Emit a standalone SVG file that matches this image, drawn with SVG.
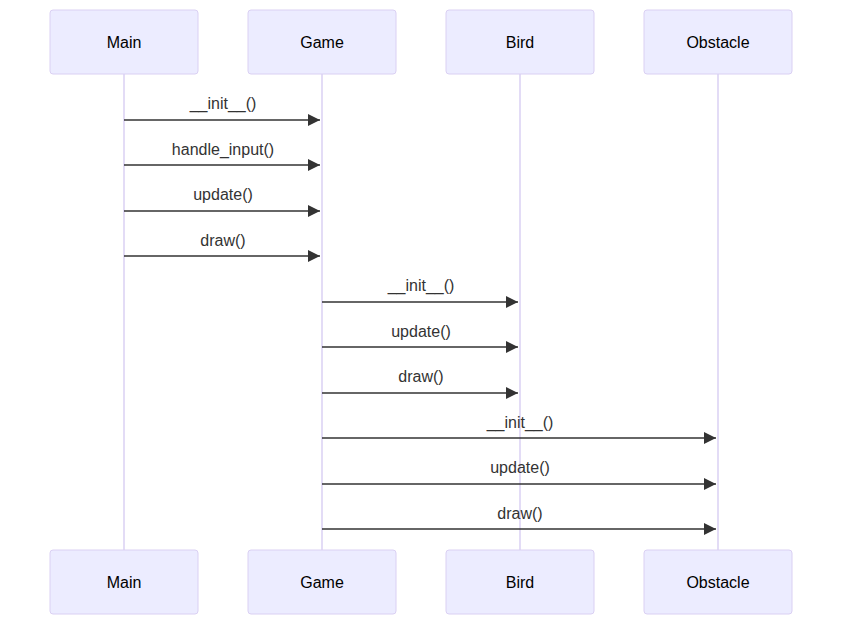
<svg xmlns="http://www.w3.org/2000/svg" width="850" height="631" viewBox="0 0 850 631">
<style>
.actor{fill:#ECECFF;stroke:#DAD0F3;stroke-width:1}
.atext{font-family:"Liberation Sans",Arial,sans-serif;font-size:16px;fill:#000;text-anchor:middle;dominant-baseline:central}
.life{stroke:#DAD0F3;stroke-width:1.5}
.msg{stroke:#333;stroke-width:1.5;fill:none;marker-end:url(#arrow)}
.mtext{font-family:"Liberation Sans",Arial,sans-serif;font-size:16px;fill:#333;text-anchor:middle}
</style>
<defs>
<marker id="arrow" markerUnits="userSpaceOnUse" markerWidth="12" markerHeight="12" refX="10" refY="5" orient="auto" viewBox="0 0 10 10">
<path d="M0,0 L10,5 L0,10 z" fill="#333"/>
</marker>
</defs>
<rect width="850" height="631" fill="#fff"/>
<g id="lifelines">
<line class="life" x1="124" y1="74" x2="124" y2="550"/>
<line class="life" x1="322" y1="74" x2="322" y2="550"/>
<line class="life" x1="520" y1="74" x2="520" y2="550"/>
<line class="life" x1="718" y1="74" x2="718" y2="550"/>
</g>
<g id="main-top"><rect class="actor" x="50" y="10" width="148" height="64" rx="3"/><text class="atext" x="124" y="42">Main</text></g>
<g id="game-top"><rect class="actor" x="248" y="10" width="148" height="64" rx="3"/><text class="atext" x="322" y="42">Game</text></g>
<g id="bird-top"><rect class="actor" x="446" y="10" width="148" height="64" rx="3"/><text class="atext" x="520" y="42">Bird</text></g>
<g id="obstacle-top"><rect class="actor" x="644" y="10" width="148" height="64" rx="3"/><text class="atext" x="718" y="42">Obstacle</text></g>
<g id="main-bottom"><rect class="actor" x="50" y="550" width="148" height="64" rx="3"/><text class="atext" x="124" y="582">Main</text></g>
<g id="game-bottom"><rect class="actor" x="248" y="550" width="148" height="64" rx="3"/><text class="atext" x="322" y="582">Game</text></g>
<g id="bird-bottom"><rect class="actor" x="446" y="550" width="148" height="64" rx="3"/><text class="atext" x="520" y="582">Bird</text></g>
<g id="obstacle-bottom"><rect class="actor" x="644" y="550" width="148" height="64" rx="3"/><text class="atext" x="718" y="582">Obstacle</text></g>
<g id="connectors">
<line class="msg" x1="124" y1="120" x2="320" y2="120"/>
<line class="msg" x1="124" y1="165" x2="320" y2="165"/>
<line class="msg" x1="124" y1="211" x2="320" y2="211"/>
<line class="msg" x1="124" y1="256" x2="320" y2="256"/>
<line class="msg" x1="322" y1="302" x2="518" y2="302"/>
<line class="msg" x1="322" y1="347" x2="518" y2="347"/>
<line class="msg" x1="322" y1="393" x2="518" y2="393"/>
<line class="msg" x1="322" y1="438" x2="716" y2="438"/>
<line class="msg" x1="322" y1="484" x2="716" y2="484"/>
<line class="msg" x1="322" y1="529" x2="716" y2="529"/>
<text class="mtext" x="223" y="109">__init__()</text>
<text class="mtext" x="223" y="155">handle_input()</text>
<text class="mtext" x="223" y="200">update()</text>
<text class="mtext" x="223" y="246">draw()</text>
<text class="mtext" x="421" y="291">__init__()</text>
<text class="mtext" x="421" y="337">update()</text>
<text class="mtext" x="421" y="382">draw()</text>
<text class="mtext" x="520" y="428">__init__()</text>
<text class="mtext" x="520" y="473">update()</text>
<text class="mtext" x="520" y="519">draw()</text>
</g>
</svg>
